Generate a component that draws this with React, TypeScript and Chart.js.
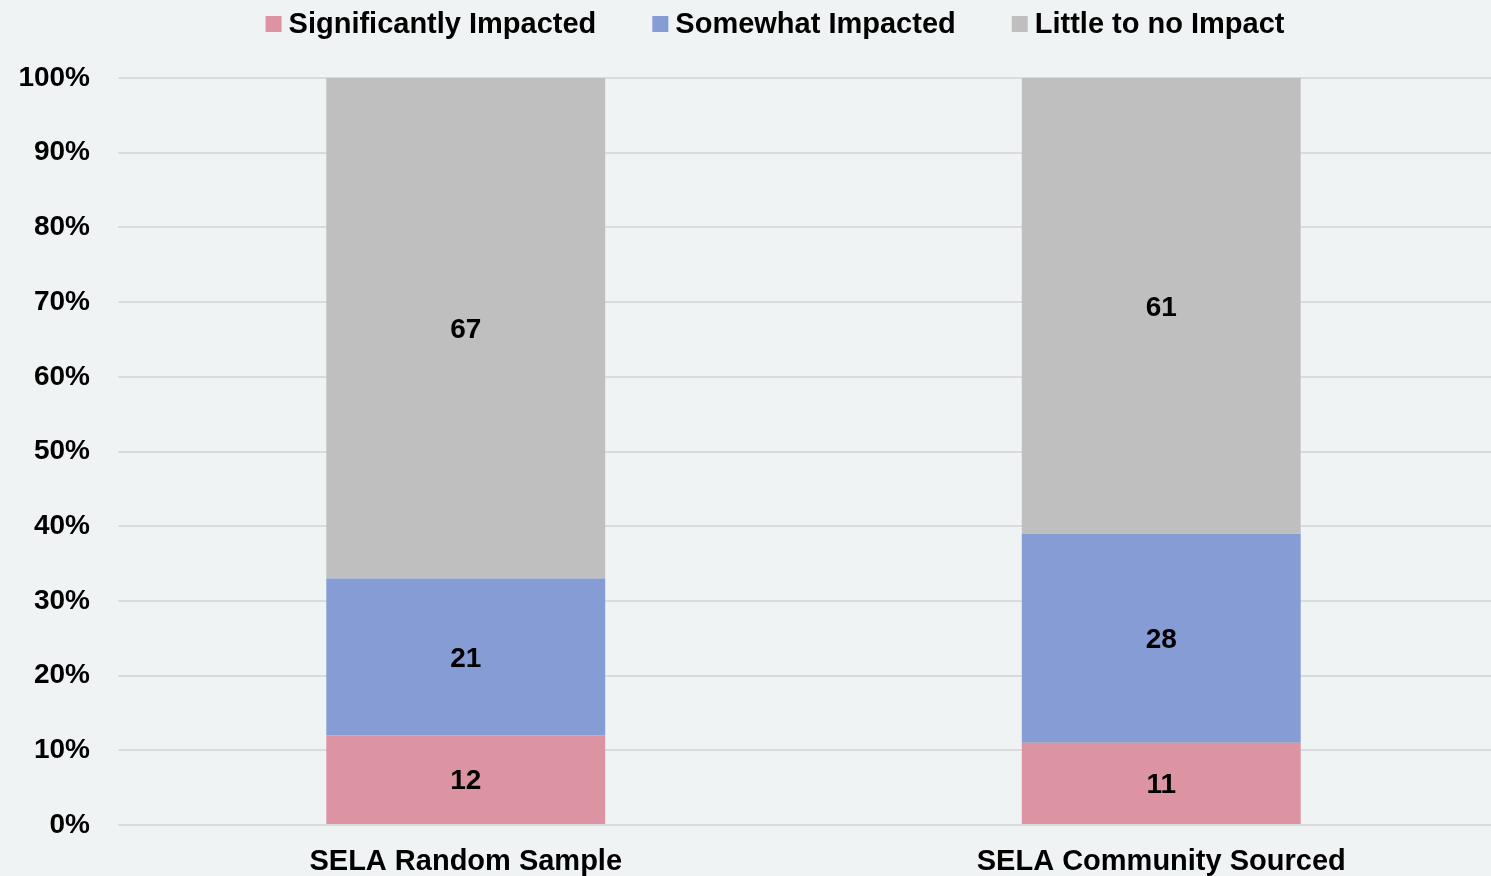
import React, { useEffect, useRef } from "react";
import { Chart, registerables } from "chart.js";

Chart.register(...registerables);

const categories = ["SELA Random Sample", "SELA Community Sourced"];
const significantly = [12, 11];
const somewhat = [21, 28];
const little = [67, 61];
const seriesLabels = ["Significantly Impacted", "Somewhat Impacted", "Little to no Impact"];
const seriesColors = ["#dc93a2", "#859cd5", "#bfbfbf"];
const yTicks = [0, 10, 20, 30, 40, 50, 60, 70, 80, 90, 100];

const BG = "#eff3f4";
const FONT_FAMILY = "'Liberation Sans', Arial, sans-serif";
const CANVAS_W = 1509;
const CANVAS_H = 876;
const LEGEND_CENTER_X = 775;
const LEGEND_Y = 25;

const bgPlugin = {
  id: "bgFill",
  beforeDraw(chart: any) {
    const { ctx, width, height } = chart;
    ctx.save();
    ctx.fillStyle = BG;
    ctx.fillRect(0, 0, width, height);
    ctx.restore();
  },
};

const legendPlugin = {
  id: "customLegend",
  afterDraw(chart: any) {
    const { ctx } = chart;
    const box = 16;
    const gap = 7;
    const spacing = 56;
    ctx.save();
    ctx.font = `bold 29px ${FONT_FAMILY}`;
    const ds = chart.data.datasets;
    const widths = ds.map((d: any) => ctx.measureText(d.label).width);
    const total =
      widths.reduce((a: number, b: number) => a + b, 0) +
      ds.length * (box + gap) +
      (ds.length - 1) * spacing;
    let x = LEGEND_CENTER_X - total / 2;
    ctx.textBaseline = "middle";
    ctx.textAlign = "left";
    ds.forEach((d: any, i: number) => {
      ctx.fillStyle = d.backgroundColor;
      ctx.fillRect(x, 24 - box / 2, box, box);
      x += box + gap;
      ctx.fillStyle = "#000";
      ctx.fillText(d.label, x, LEGEND_Y);
      x += widths[i] + spacing;
    });
    ctx.restore();
  },
};

const valueLabelPlugin = {
  id: "valueLabels",
  afterDatasetsDraw(chart: any) {
    const { ctx } = chart;
    ctx.save();
    ctx.font = `bold 28px ${FONT_FAMILY}`;
    ctx.fillStyle = "#000";
    ctx.textAlign = "center";
    ctx.textBaseline = "middle";
    chart.data.datasets.forEach((d: any, di: number) => {
      const meta = chart.getDatasetMeta(di);
      meta.data.forEach((bar: any, i: number) => {
        const top = bar.y;
        const bottom = bar.base;
        ctx.fillText(String(d.data[i]), bar.x, (top + bottom) / 2 + 2);
      });
    });
    ctx.restore();
  },
};

export default function App() {
  const canvasRef = useRef<HTMLCanvasElement | null>(null);

  useEffect(() => {
    if (!canvasRef.current) return;
    const chart = new Chart(canvasRef.current, {
      type: "bar",
      data: {
        labels: categories,
        datasets: [
          { label: seriesLabels[0], data: significantly, backgroundColor: seriesColors[0] },
          { label: seriesLabels[1], data: somewhat, backgroundColor: seriesColors[1] },
          { label: seriesLabels[2], data: little, backgroundColor: seriesColors[2] },
        ],
      },
      options: {
        responsive: false,
        animation: false,
        devicePixelRatio: 1,
        layout: { padding: { top: 78, left: 0, right: 0, bottom: 0 } },
        datasets: {
          bar: { barPercentage: 1, categoryPercentage: 0.401, borderWidth: 0 },
        },
        plugins: {
          legend: { display: false },
          tooltip: { enabled: false },
        },
        scales: {
          x: {
            stacked: true,
            grid: { display: false, drawTicks: false },
            border: { display: false },
            afterFit(scale: any) {
              scale.height = 51;
            },
            ticks: {
              color: "#000",
              padding: 20,
              maxRotation: 0,
              font: { family: FONT_FAMILY, size: 29, weight: "bold" },
            },
          },
          y: {
            stacked: true,
            min: 0,
            max: 100,
            afterBuildTicks(scale: any) {
              scale.ticks = yTicks.map((v) => ({ value: v }));
            },
            afterFit(scale: any) {
              scale.width = 118;
            },
            grid: { color: "#d9dbdc", lineWidth: 2, drawTicks: false },
            border: { display: false },
            ticks: {
              color: "#000",
              padding: 28,
              font: { family: FONT_FAMILY, size: 28, weight: "bold" },
              callback: (v: any) => `${v}%`,
            },
          },
        },
      },
      plugins: [bgPlugin, valueLabelPlugin, legendPlugin],
    } as any);
    return () => chart.destroy();
  }, []);

  return (
    <div
      style={{
        position: "fixed",
        left: 0,
        top: 0,
        width: 1491,
        height: 876,
        overflow: "hidden",
        background: BG,
      }}
    >
      <canvas ref={canvasRef} width={CANVAS_W} height={CANVAS_H} style={{ display: "block" }} />
    </div>
  );
}
